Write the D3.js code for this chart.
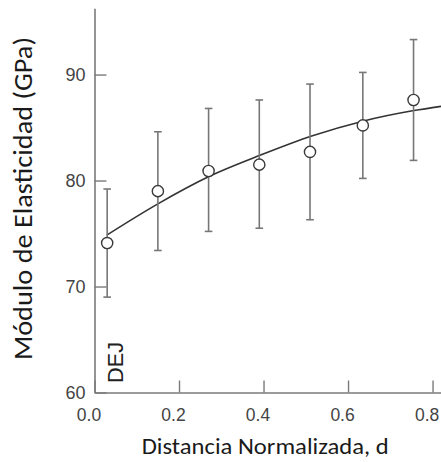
<!DOCTYPE html>
<html>
<head>
<meta charset="utf-8">
<script src="https://cdn.jsdelivr.net/npm/d3@7"></script>
<style>
  html, body { margin: 0; padding: 0; background: #fff; }
  svg { display: block; }
</style>
</head>
<body>
<svg id="chart" width="441" height="462"></svg>
<script>
// Measured elastic modulus across the normalized distance from the DEJ
const distance = [0.03, 0.15, 0.27, 0.39, 0.51, 0.635, 0.755];
const modulus  = [74.1, 79.0, 80.9, 81.5, 82.7, 85.2, 87.6];
const upper    = [79.2, 84.6, 86.8, 87.6, 89.1, 90.2, 93.3];
const lower    = [69.0, 73.4, 75.2, 75.5, 76.3, 80.2, 81.9];

// Trend line readings
const fitDistance = [0.029, 0.15, 0.272, 0.393, 0.514, 0.635, 0.756, 0.82];
const fitModulus  = [74.85, 77.8, 80.4, 82.4, 84.2, 85.6, 86.6, 87.0];

const xTicks = [0, 0.2, 0.4, 0.6, 0.8];
const yTicks = [60, 70, 80, 90];

const svg = d3.select("#chart");

const x = d3.scaleLinear().domain([0, 0.82]).range([94.5, 441]);
const y = d3.scaleLinear().domain([60, 96.25]).range([392.5, 8.3]);

const axisColor = "#7a7a7a";
const labelColor = "#444";

// Y axis (ticks point into the plot)
const gy = svg.append("g")
  .attr("transform", `translate(${x(0)},0)`)
  .call(d3.axisLeft(y).tickValues(yTicks).tickFormat(d3.format("d"))
    .tickSizeInner(-12).tickSizeOuter(0).tickPadding(9));
gy.select(".domain").attr("stroke", axisColor).attr("stroke-width", 1.6);
gy.selectAll(".tick line").attr("stroke", axisColor).attr("stroke-width", 1.4);
gy.selectAll(".tick text")
  .attr("fill", labelColor)
  .attr("font-family", "'Liberation Sans', Arial, sans-serif")
  .attr("font-size", 18);

// X axis
const gx = svg.append("g")
  .attr("transform", `translate(0,${y(60)})`)
  .call(d3.axisBottom(x).tickValues(xTicks).tickFormat(d3.format(".1f"))
    .tickSizeInner(-12).tickSizeOuter(0).tickPadding(16));
gx.select(".domain").attr("stroke", axisColor).attr("stroke-width", 1.6);
gx.selectAll(".tick line").attr("stroke", axisColor).attr("stroke-width", 1.4);
gx.selectAll(".tick text")
  .attr("fill", labelColor)
  .attr("dx", -6)
  .attr("font-family", "'Liberation Sans', Arial, sans-serif")
  .attr("font-size", 17.5);

// Trend line
const line = d3.line()
  .x((d, i) => x(fitDistance[i]))
  .y(d => y(d))
  .curve(d3.curveMonotoneX);
svg.append("path")
  .datum(fitModulus)
  .attr("d", line)
  .attr("fill", "none")
  .attr("stroke", "#333")
  .attr("stroke-width", 1.6);

// Error bars
const bars = svg.append("g").attr("stroke", "#777").attr("stroke-width", 1.6);
distance.forEach((d, i) => {
  bars.append("line")
    .attr("x1", x(d)).attr("x2", x(d))
    .attr("y1", y(upper[i])).attr("y2", y(lower[i]));
  [upper[i], lower[i]].forEach(v => {
    bars.append("line")
      .attr("x1", x(d) - 3.8).attr("x2", x(d) + 3.8)
      .attr("y1", y(v)).attr("y2", y(v));
  });
});

// Mean values
svg.append("g").selectAll("circle")
  .data(modulus)
  .join("circle")
  .attr("cx", (d, i) => x(distance[i]))
  .attr("cy", d => y(d))
  .attr("r", 5.6)
  .attr("fill", "#fff")
  .attr("stroke", "#3a3a3a")
  .attr("stroke-width", 1.4);

// DEJ marker
svg.append("text")
  .attr("transform", "translate(122.5,383) rotate(-90)")
  .attr("font-family", "'Liberation Sans', Arial, sans-serif")
  .attr("font-size", 22)
  .attr("fill", "#222")
  .attr("textLength", 41)
  .attr("lengthAdjust", "spacingAndGlyphs")
  .text("DEJ");

// Axis titles
svg.append("text")
  .attr("transform", "translate(31.5,360) rotate(-90)")
  .attr("font-family", "Carlito, 'Open Sans', sans-serif")
  .attr("font-size", 27)
  .attr("fill", "#1a1a1a")
  .attr("textLength", 323)
  .attr("lengthAdjust", "spacingAndGlyphs")
  .text("Módulo de Elasticidad (GPa)");

svg.append("text")
  .attr("x", 141.7)
  .attr("y", 454)
  .attr("font-family", "Carlito, 'Open Sans', sans-serif")
  .attr("font-size", 23)
  .attr("fill", "#1a1a1a")
  .attr("textLength", 247)
  .attr("lengthAdjust", "spacingAndGlyphs")
  .text("Distancia Normalizada, d");
</script>
</body>
</html>
